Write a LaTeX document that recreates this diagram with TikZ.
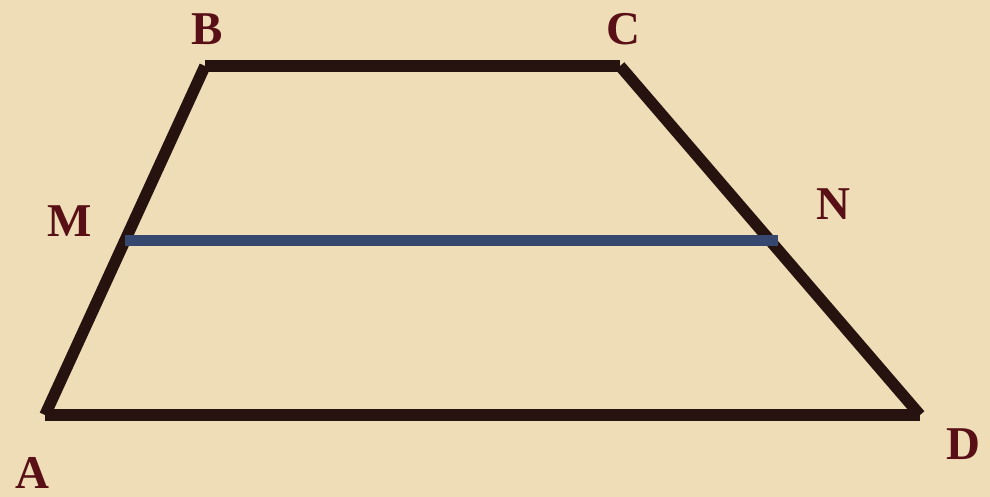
\documentclass[tikz,border=0pt]{standalone}
\usepackage{fontspec}
\setmainfont{Liberation Serif}
\usepackage{tikz}
\usetikzlibrary{calc}

\definecolor{parch}{RGB}{238,221,182}
\definecolor{side}{RGB}{38,18,14}
\definecolor{mid}{RGB}{55,72,112}
\definecolor{lbl}{RGB}{88,16,22}

\begin{document}
\begin{tikzpicture}[
  x=1pt, y=1pt,
  side/.style={draw=side, line width=11.5pt},
  midline/.style={draw=mid, line width=11.5pt},
  lab/.style={text=lbl, font=\fontsize{47}{47}\selectfont\bfseries, inner sep=0pt, text depth=0pt, anchor=base}
]
\fill[parch] (0,0) rectangle (990,497);
\useasboundingbox (0,0) rectangle (990,497);

% vertices
\coordinate (A) at (45,82);
\coordinate (B) at (205,431);
\coordinate (C) at (620,431);
\coordinate (D) at (920,82);
\coordinate (M) at ($(A)!0.5!(B)$);
\coordinate (N) at ($(D)!0.5!(C)+(8,0)$);

\node[lab] (la) at (32,8) {A};
\node[lab] (lb) at (207,452) {B};
\node[lab] (lc) at (623,452) {C};
\node[lab] (ld) at (963,37) {D};
\node[lab] (lm) at (70,260) {M};
\node[lab] (ln) at (833,277) {N};

\draw[side] (A) -- (D);
\draw[side] (A) -- (B);
\draw[side] (B) -- (C);
\draw[side] (C) -- (D);
\draw[midline] (M) -- (N);
\end{tikzpicture}
\end{document}
